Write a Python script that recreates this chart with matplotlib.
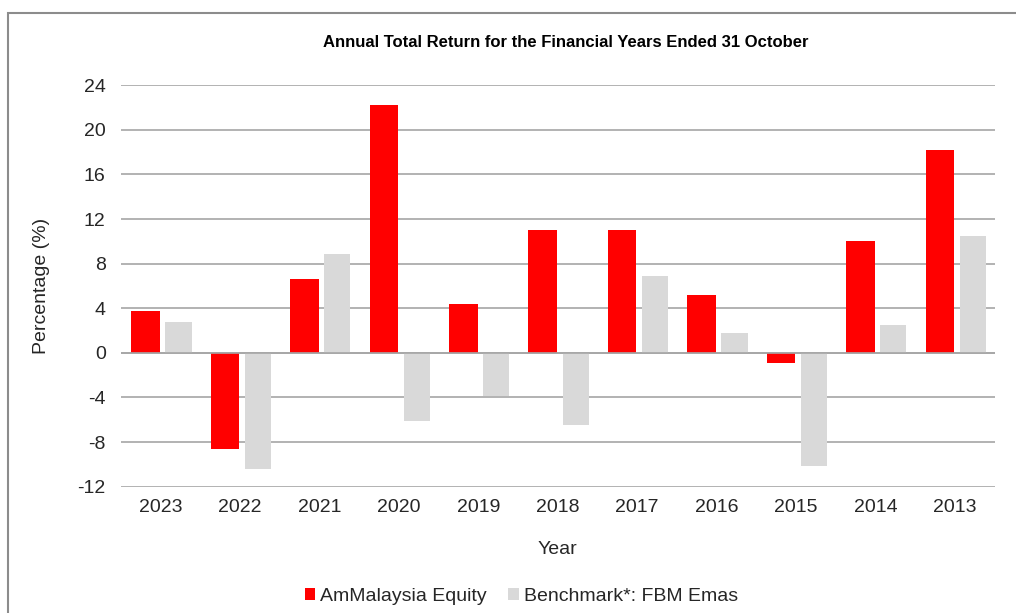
import matplotlib
matplotlib.use('Agg')
import matplotlib.pyplot as plt
import matplotlib.patches as mpatches
import numpy as np

# data
years = ['2023', '2022', '2021', '2020', '2019', '2018', '2017', '2016', '2015', '2014', '2013']
fund = [3.8, -8.6, 6.6, 22.2, 4.4, 11.0, 11.0, 5.2, -0.9, 10.0, 18.2]
benchmark = [2.8, -10.4, 8.9, -6.1, -3.9, -6.5, 6.9, 1.8, -10.1, 2.5, 10.5]
yticks = [-12, -8, -4, 0, 4, 8, 12, 16, 20, 24]

plt.rcParams['font.family'] = ['Liberation Sans', 'DejaVu Sans']

fig = plt.figure(figsize=(10.16, 6.13), dpi=100)
ax = fig.add_axes([0.119, 0.206, 0.860, 0.655])

x = np.arange(len(years))
ax.bar(x - 0.19, fund, width=0.36, color='#FF0000', zorder=3,
       label='AmMalaysia Equity')
ax.bar(x + 0.225, benchmark, width=0.33, color='#D9D9D9', zorder=3,
       label='Benchmark*: FBM Emas')

ax.set_xlim(-0.5, len(years) - 0.5)
ax.set_ylim(-12, 24)
ax.set_yticks(yticks)
ax.set_yticklabels([str(v) for v in yticks])
ax.set_xticks(x)
ax.set_xticklabels(years)
ax.tick_params(axis='both', length=0, labelsize=14, colors='#262626')
ax.tick_params(axis='y', pad=11)
ax.tick_params(axis='x', pad=9)

ax.grid(axis='y', color='#A6A6A6', linewidth=1.2, zorder=0)
ax.axhline(0, color='#A6A6A6', linewidth=1.2, zorder=4)
for s in ax.spines.values():
    s.set_visible(False)

ax.set_xlabel('Year', fontsize=14, color='#262626', labelpad=18)
ax.set_ylabel('Percentage (%)', fontsize=14, color='#262626', labelpad=20)

fig.text(0.557, 0.930, 'Annual Total Return for the Financial Years Ended 31 October',
         ha='center', va='center', fontsize=12, fontweight='bold', color='black')

handles, labels = ax.get_legend_handles_labels()
fig.legend(handles, labels, loc='center', bbox_to_anchor=(0.513, 0.027), ncol=2,
           frameon=False, fontsize=14, handlelength=0.55, handleheight=0.55,
           handletextpad=0.25, columnspacing=1.1, labelcolor='#262626')

# outer chart border (runs off the right and bottom edge)
border = mpatches.Rectangle((0.008, -0.05), 1.1, 1.029, transform=fig.transFigure,
                            fill=False, edgecolor='#8C8C8C', linewidth=1.5)
fig.patches.append(border)

plt.savefig('out.png', dpi=100)
